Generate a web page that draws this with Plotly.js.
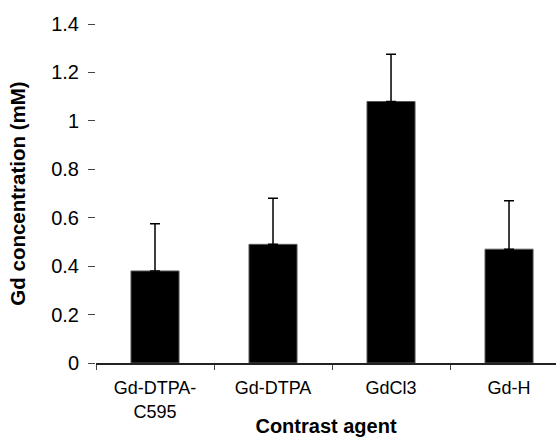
<!DOCTYPE html>
<html>
<head>
<meta charset="utf-8">
<script src="https://cdn.plot.ly/plotly-3.0.1.min.js"></script>
<style>html,body{margin:0;padding:0;background:#fff;}#chart{width:556px;height:437px;}</style>
</head>
<body>
<div id="chart"></div>
<script>
var categories = ["Gd-DTPA-<br>C595", "Gd-DTPA", "GdCl3", "Gd-H"];
var concentrations = [0.38, 0.49, 1.08, 0.47];
var errorsPlus = [0.195, 0.19, 0.195, 0.2];
var errorsMinus = [0, 0, 0, 0];
var yTickVals = [0, 0.2, 0.4, 0.6, 0.8, 1, 1.2, 1.4];
var yTickText = ["0", "0.2", "0.4", "0.6", "0.8", "1", "1.2", "1.4"];

var font = "Liberation Sans, Arial, sans-serif";

var trace = {
  type: "bar",
  x: categories,
  y: concentrations,
  width: 0.407,
  marker: {color: "#000000", line: {color: "#555555", width: 1}},
  error_y: {
    type: "data",
    symmetric: false,
    array: errorsPlus,
    arrayminus: errorsMinus,
    color: "#000000",
    thickness: 1.5,
    width: 5
  },
  hoverinfo: "none"
};

var layout = {
  width: 556,
  height: 437,
  margin: {l: 96, r: 0, t: 24, b: 74, pad: 0},
  paper_bgcolor: "#ffffff",
  plot_bgcolor: "#ffffff",
  showlegend: false,
  font: {family: font, color: "#000000"},
  xaxis: {
    type: "category",
    range: [-0.5, 3.398],
    showline: true,
    linecolor: "#222222",
    linewidth: 1.5,
    ticks: "outside",
    tickson: "boundaries",
    ticklen: 5,
    tickcolor: "#444444",
    tickwidth: 1,
    ticklabelstandoff: 8,
    tickfont: {family: font, size: 18, color: "#000000"},
    showgrid: false,
    zeroline: false,
    automargin: false,
    title: {text: "<b>Contrast agent</b>", font: {family: font, size: 20, color: "#000000"}, standoff: 2}
  },
  yaxis: {
    range: [0, 1.4],
    tickvals: yTickVals,
    ticktext: yTickText,
    showline: false,
    ticks: "outside",
    ticklen: 7,
    tickcolor: "#444444",
    tickwidth: 1,
    ticklabelstandoff: 5,
    tickfont: {family: font, size: 20, color: "#000000"},
    showgrid: false,
    zeroline: false,
    automargin: false,
    title: {text: "<b>Gd concentration (mM)</b>", font: {family: font, size: 20.5, color: "#000000"}, standoff: 20}
  }
};

Plotly.newPlot("chart", [trace], layout, {displayModeBar: false, staticPlot: true});
</script>
</body>
</html>
